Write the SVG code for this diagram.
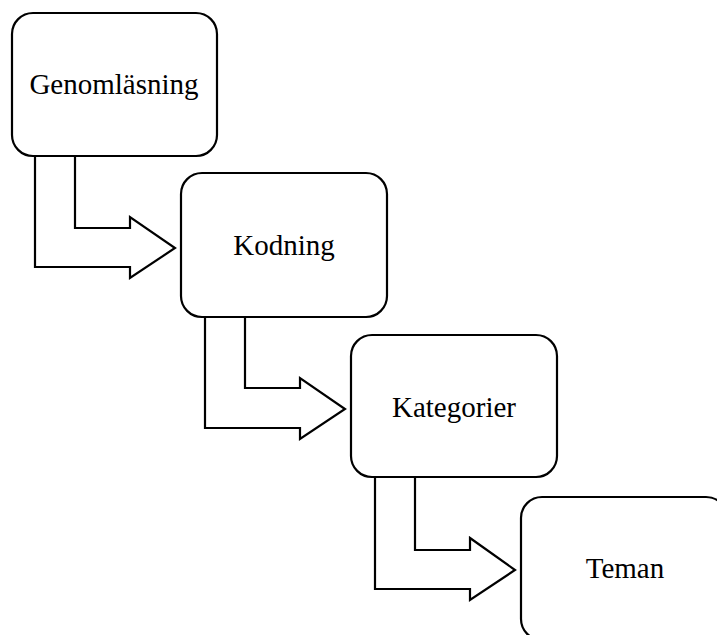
<svg xmlns="http://www.w3.org/2000/svg" width="717" height="635" viewBox="0 0 717 635">
<style>
.box{fill:#fff;stroke:#000;stroke-width:2.2}
.arr{fill:#fff;stroke:#000;stroke-width:2.2;stroke-linejoin:miter}
.t{font-family:"Liberation Serif","Times New Roman",serif;font-size:29px;fill:#000;text-anchor:middle}
</style>
<rect width="717" height="635" fill="#fff"/>
<g id="connectors">
<path class="arr" d="M35,156 L35,267 L130,267 L130,278 L175,248 L130,217 L130,228 L75,228 L75,156"/>
<path class="arr" d="M205,317 L205,428 L300,428 L300,439 L345,409 L300,378 L300,388 L245,388 L245,317"/>
<path class="arr" d="M375,477 L375,589 L470,589 L470,600 L515,570 L470,538 L470,550 L415,550 L415,477"/>
</g>
<g id="n1"><rect class="box" x="12" y="13" width="205" height="143" rx="21"/><text class="t" x="114" y="94">Genomläsning</text></g>
<g id="n2"><rect class="box" x="181" y="173" width="206" height="144" rx="21"/><text class="t" x="284" y="255">Kodning</text></g>
<g id="n3"><rect class="box" x="351" y="335" width="206" height="142" rx="21"/><text class="t" x="454" y="417">Kategorier</text></g>
<g id="n4"><rect class="box" x="521" y="497" width="206" height="143" rx="21"/><text class="t" x="625" y="578">Teman</text></g>
</svg>
